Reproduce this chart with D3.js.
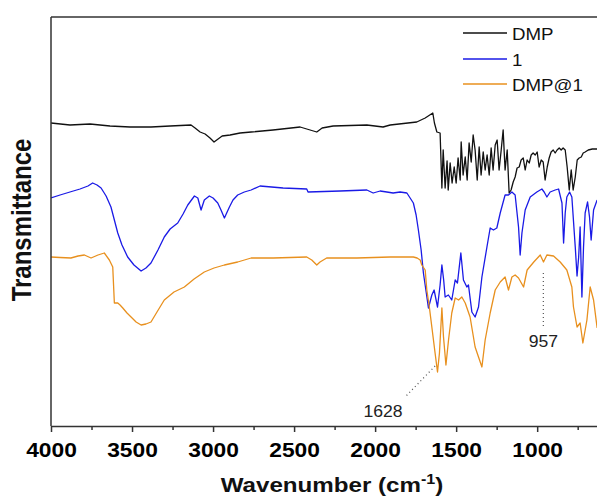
<!DOCTYPE html>
<html>
<head>
<meta charset="utf-8">
<script src="https://cdn.jsdelivr.net/npm/d3@7"></script>
<style>
  html, body { margin: 0; padding: 0; background: #fff; }
  svg { display: block; font-family: "Liberation Sans", Arial, sans-serif; }
</style>
</head>
<body>
<svg id="chart" width="597" height="498"></svg>
<script>
// ---- data (wavenumber cm-1, transmittance in arbitrary units) ----
const seriesNames = ["DMP", "1", "DMP@1"];

const dmpWn = [4000,3883,3759,3636,3512,3383,3265,3136,3111,3080,3049,3019,2994,2969,2944,2895,2833,2765,2630,2463,2360,2327,2259,2051,1951,1907,1743,1691,1644,1634,1619,1599,1588,1580,1568,1556,1549,1537,1525,1512,1500,1488,1475,1469,1457,1444,1432,1420,1407,1395,1383,1370,1358,1346,1333,1321,1309,1296,1284,1272,1259,1247,1235,1222,1210,1198,1185,1173,1161,1148,1136,1124,1111,1099,1086,1074,1062,1049,1037,1025,1012,1000,988,975,963,951,938,926,914,901,889,877,864,852,840,827,815,802,790,778,765,753,741,728,716,704,685,660,630];
const dmpT  = [303,301,302,300,299,299,300,301,298,294,292,288,284,287,290,291,293,294,296,299,294,298,300,301,299,301,304,308,313,303,294,293,238,276,238,265,236,263,243,259,243,268,246,284,251,269,246,283,264,291,276,246,279,251,274,256,271,251,278,256,281,286,256,276,296,256,276,233,236,244,249,258,259,266,268,256,266,263,271,273,271,274,259,266,264,246,259,268,274,276,273,276,278,276,278,276,259,236,256,236,249,266,268,269,273,274,276,277,277];

const oneWn = [4000,3944,3883,3821,3772,3743,3716,3691,3660,3630,3588,3562,3527,3488,3444,3414,3383,3340,3301,3265,3218,3185,3156,3115,3094,3074,3054,3023,3000,2971,2951,2930,2899,2877,2848,2807,2765,2710,2568,2422,2414,2216,2051,2012,1969,1928,1889,1846,1804,1784,1764,1747,1733,1716,1702,1685,1671,1650,1636,1615,1599,1588,1577,1568,1548,1527,1506,1492,1471,1455,1434,1424,1403,1383,1362,1341,1310,1290,1270,1249,1228,1198,1177,1156,1136,1115,1105,1094,1074,1043,1002,971,957,940,920,889,868,847,837,827,817,800,786,765,754,744,735,724,714,704,689,677,667,652,630];
const oneT  = [228,231,234,237,240,243,241,238,230,219,193,181,169,161,155,158,163,176,189,197,203,212,221,230,228,216,226,230,228,223,216,208,219,226,231,234,236,240,238,237,234,235,236,233,235,234,233,234,233,228,223,211,196,176,153,134,118,131,136,119,141,161,146,129,131,126,146,143,173,146,139,141,114,109,119,149,179,198,196,198,213,231,231,234,231,199,171,193,216,229,234,237,234,229,234,236,237,223,183,213,229,234,229,179,150,169,199,129,179,213,224,209,186,216,226];

const mixWn = [4000,3944,3877,3833,3794,3753,3710,3671,3640,3619,3609,3588,3574,3557,3531,3506,3475,3444,3414,3383,3346,3301,3241,3177,3117,3054,2994,2930,2848,2765,2628,2422,2391,2360,2340,2299,2113,1907,1764,1741,1722,1712,1691,1681,1667,1650,1630,1615,1603,1588,1578,1563,1547,1527,1506,1485,1465,1444,1414,1383,1362,1341,1321,1290,1259,1228,1198,1177,1156,1136,1115,1084,1062,1021,981,961,940,899,858,817,786,776,754,735,718,693,673,652,630];
const mixT  = [169,168.5,168,170,171,168,171,173,166,159,123,123,121,118,113,109,104,101,102,104,114,126,134,139,147,154,158,161,164,168,168,169,166,161,164,168,168,169,169,168,166,161,156,136,121,99,73,54,73,118,89,61,86,113,128,126,129,123,109,79,69,59,86,113,136,144,149,136,149,151,148,139,156,164,171,164,171,170,164,156,139,119,99,103,83,106,139,126,98];

const seriesWn = [dmpWn, oneWn, mixWn];
const seriesT  = [dmpT, oneT, mixT];
const seriesColors = ["#111111", "#1a1ae6", "#e8901e"];

const majorTicks = [4000, 3500, 3000, 2500, 2000, 1500, 1000];
const minorTicks = [3750, 3250, 2750, 2250, 1750, 1250, 750];

const annotLabels = ["1628", "957"];
// line start (wn, T), line end (wn, T), label anchor (wn, T)
const annotLine = [[1630, 60, 1815, 29], [962, 153, 962, 99]];
const annotText = [[1951, 9], [962, 79]];

// ---- layout ----
const svg = d3.select("#chart");
const m = { left: 51, top: 17, bottom: 426, right: 602 };
const x = d3.scaleLinear().domain([4000, 600]).range([m.left, m.right]);
const y = d3.scaleLinear().domain([0, 409]).range([m.bottom, m.top]);

svg.append("defs").append("clipPath").attr("id", "plotclip")
  .append("rect").attr("x", m.left).attr("y", m.top)
  .attr("width", m.right - m.left).attr("height", m.bottom - m.top);

// spectra
const line = d3.line().x(d => x(d[0])).y(d => y(d[1]));
const gLines = svg.append("g").attr("clip-path", "url(#plotclip)");
seriesNames.forEach((name, i) => {
  const pts = seriesWn[i].map((w, j) => [w, seriesT[i][j]]);
  gLines.append("path").datum(pts)
    .attr("d", line).attr("fill", "none")
    .attr("stroke", seriesColors[i]).attr("stroke-width", 1.3)
    .attr("stroke-linejoin", "round");
});

// frame
const frameColor = "#333";
svg.append("line").attr("x1", m.left).attr("x2", m.left).attr("y1", m.top).attr("y2", m.bottom)
  .attr("stroke", frameColor).attr("stroke-width", 1.5);
svg.append("line").attr("x1", m.left).attr("x2", 597).attr("y1", m.top).attr("y2", m.top)
  .attr("stroke", frameColor).attr("stroke-width", 1.5);

// x axis
const xAxis = d3.axisBottom(x).tickValues(majorTicks).tickSize(6).tickSizeOuter(0)
  .tickFormat(d3.format("d"));
const gx = svg.append("g").attr("transform", `translate(0,${m.bottom})`).call(xAxis);
gx.select(".domain").attr("stroke", frameColor).attr("stroke-width", 1.5);
gx.selectAll(".tick line").attr("stroke", frameColor).attr("stroke-width", 1.5);
gx.selectAll(".tick text")
  .attr("y", 31).attr("dy", 0)
  .attr("font-size", 20).attr("font-weight", "bold").attr("fill", "#000")
  .attr("font-family", "'Liberation Sans', Arial, sans-serif")
  .attr("transform", "scale(1.14,1)");
const xMinor = d3.axisBottom(x).tickValues(minorTicks).tickSize(4).tickSizeOuter(0).tickFormat("");
const gxm = svg.append("g").attr("transform", `translate(0,${m.bottom})`).call(xMinor);
gxm.select(".domain").remove();
gxm.selectAll(".tick line").attr("stroke", frameColor).attr("stroke-width", 1.5);

// axis titles
const xt = svg.append("text")
  .attr("transform", "translate(332,492) scale(1.15,1)")
  .attr("text-anchor", "middle").attr("font-size", 21).attr("font-weight", "bold").attr("fill", "#111");
xt.append("tspan").text("Wavenumber (cm");
xt.append("tspan").attr("font-size", 14).attr("dy", -8).text("-1");
xt.append("tspan").attr("dy", 8).text(")");

svg.append("text")
  .attr("transform", "translate(31,220) scale(1.15,1) rotate(-90)")
  .attr("text-anchor", "middle").attr("font-size", 24).attr("font-weight", "bold").attr("fill", "#111")
  .text("Transmittance");

// legend
const lg = svg.append("g");
const legendY = [33, 59, 84];
seriesNames.forEach((name, i) => {
  lg.append("line").attr("x1", 463).attr("x2", 507).attr("y1", legendY[i]).attr("y2", legendY[i])
    .attr("stroke", seriesColors[i]).attr("stroke-width", 1.3);
  lg.append("text")
    .attr("transform", `translate(512,${legendY[i] + 7}) scale(1.1,1)`)
    .attr("font-size", 17).attr("fill", "#111").text(name);
});

// annotations
annotLabels.forEach((lab, i) => {
  const L = annotLine[i];
  svg.append("line")
    .attr("x1", x(L[0])).attr("y1", y(L[1])).attr("x2", x(L[2])).attr("y2", y(L[3]))
    .attr("stroke", "#555").attr("stroke-width", 1.2).attr("stroke-dasharray", "1,3");
  svg.append("text")
    .attr("transform", `translate(${x(annotText[i][0])},${y(annotText[i][1])}) scale(1.1,1)`)
    .attr("text-anchor", "middle").attr("font-size", 16).attr("fill", "#222").text(lab);
});
</script>
</body>
</html>
